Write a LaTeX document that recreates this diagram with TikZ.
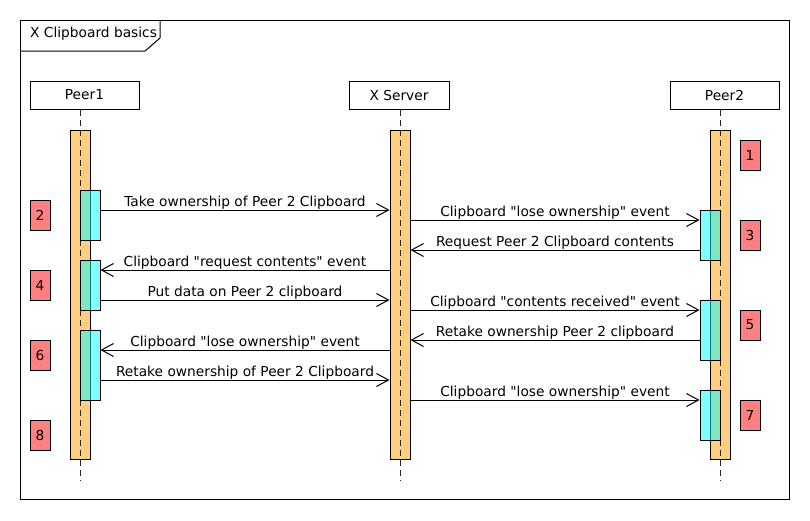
\documentclass[tikz,border=0pt]{standalone}
\usepackage{fontspec}
\setmainfont{DejaVu Sans}
\usepackage{xcolor}
\usetikzlibrary{arrows.meta}

\definecolor{laranja}{RGB}{255,206,128}
\definecolor{ciano}{RGB}{0,255,255}
\definecolor{vermelho}{RGB}{255,128,128}

\tikzset{
  cabeca/.style={draw, line width=1pt, minimum height=28pt, inner sep=0pt},
  barra/.style={draw, line width=1pt, fill=laranja, minimum width=20pt, inner sep=0pt},
  ativa/.style={draw, line width=1pt, fill=ciano, fill opacity=0.5, text opacity=1,
    minimum width=20pt, inner sep=0pt},
  passo/.style={draw, line width=1pt, fill=vermelho, minimum width=20pt,
    minimum height=30pt, inner sep=0pt},
  vida/.style={black!85, line width=1pt, dash pattern=on 6pt off 4pt},
  msg/.style={line width=1pt, -{Straight Barb[length=12pt, width=13pt]}},
  rotulo/.style={midway, above, inner sep=0.5pt}
}

\begin{document}
\begin{tikzpicture}[x=1pt, y=-1pt, font=\fontsize{13.75pt}{16pt}\selectfont]
  \useasboundingbox (0,0) rectangle (810,520);
  % moldura e aba do titulo
  \draw[line width=1pt] (20,20) rectangle (789,499);
  \draw[line width=1pt] (20,51) -- (145,51) -- (160,38) -- (160,20);
  \node[anchor=base west, inner sep=0pt] (titulo) at (30,37.5) {X Clipboard basics};
  % cabecas das linhas de vida
  \node[cabeca, minimum width=109pt] (peer1) at (84.5,95) {Peer1};
  \node[cabeca, minimum width=100pt] (xserver) at (399,95) {X Server};
  \node[cabeca, minimum width=109pt] (peer2) at (724.5,95) {Peer2};
  % barras laranja
  \node[barra, minimum height=329pt] (bar1) at (80,294.5) {};
  \node[barra, minimum height=329pt] (bar2) at (400,294.5) {};
  \node[barra, minimum height=329pt] (bar3) at (720,294.5) {};
  % linhas de vida tracejadas
  \draw[vida] (bar1.center |- peer1.south) -- (bar1.center |- 0,480);
  \draw[vida] (bar2.center |- xserver.south) -- (bar2.center |- 0,480);
  \draw[vida] (bar3.center |- peer2.south) -- (bar3.center |- 0,480);
  % ativacoes Peer1
  \node[ativa, minimum height=50pt] (act1) at (90,215) {};
  \node[ativa, minimum height=50pt] (act2) at (90,285) {};
  \node[ativa, minimum height=70pt] (act3) at (90,365) {};
  % ativacoes Peer2
  \node[ativa, minimum height=50pt] (act4) at (710,235) {};
  \node[ativa, minimum height=60pt] (act5) at (710,330) {};
  \node[ativa, minimum height=50pt] (act6) at (710,415) {};
  % passos numerados
  \node[passo] (n1) at (750,155) {1};
  \node[passo] (n2) at (40,215) {2};
  \node[passo] (n3) at (750,235) {3};
  \node[passo] (n4) at (40,285) {4};
  \node[passo] (n5) at (750,325) {5};
  \node[passo] (n6) at (40,355) {6};
  \node[passo] (n7) at (750,415) {7};
  \node[passo] (n8) at (40,435) {8};
  % mensagens
  \draw[msg] (act1.east |- 0,210) -- (bar2.west |- 0,210)
    node[rotulo] {Take ownership of Peer 2 Clipboard};
  \draw[msg] (bar2.east |- 0,220) -- (act4.west |- 0,220)
    node[rotulo] {Clipboard \textquotedbl lose ownership\textquotedbl\ event};
  \draw[msg] (act4.west |- 0,250) -- (bar2.east |- 0,250)
    node[rotulo] {Request Peer 2 Clipboard contents};
  \draw[msg] (bar2.west |- 0,270) -- (act2.east |- 0,270)
    node[rotulo] {Clipboard \textquotedbl request contents\textquotedbl\ event};
  \draw[msg] (act2.east |- 0,300) -- (bar2.west |- 0,300)
    node[rotulo] {Put data on Peer 2 clipboard};
  \draw[msg] (bar2.east |- 0,310) -- (act5.west |- 0,310)
    node[rotulo] {Clipboard \textquotedbl contents received\textquotedbl\ event};
  \draw[msg] (act5.west |- 0,340) -- (bar2.east |- 0,340)
    node[rotulo] {Retake ownership Peer 2 clipboard};
  \draw[msg] (bar2.west |- 0,350) -- (act3.east |- 0,350)
    node[rotulo] {Clipboard \textquotedbl lose ownership\textquotedbl\ event};
  \draw[msg] (act3.east |- 0,380) -- (bar2.west |- 0,380)
    node[rotulo] {Retake ownership of Peer 2 Clipboard};
  \draw[msg] (bar2.east |- 0,400) -- (act6.west |- 0,400)
    node[rotulo] {Clipboard \textquotedbl lose ownership\textquotedbl\ event};
\end{tikzpicture}
\end{document}
